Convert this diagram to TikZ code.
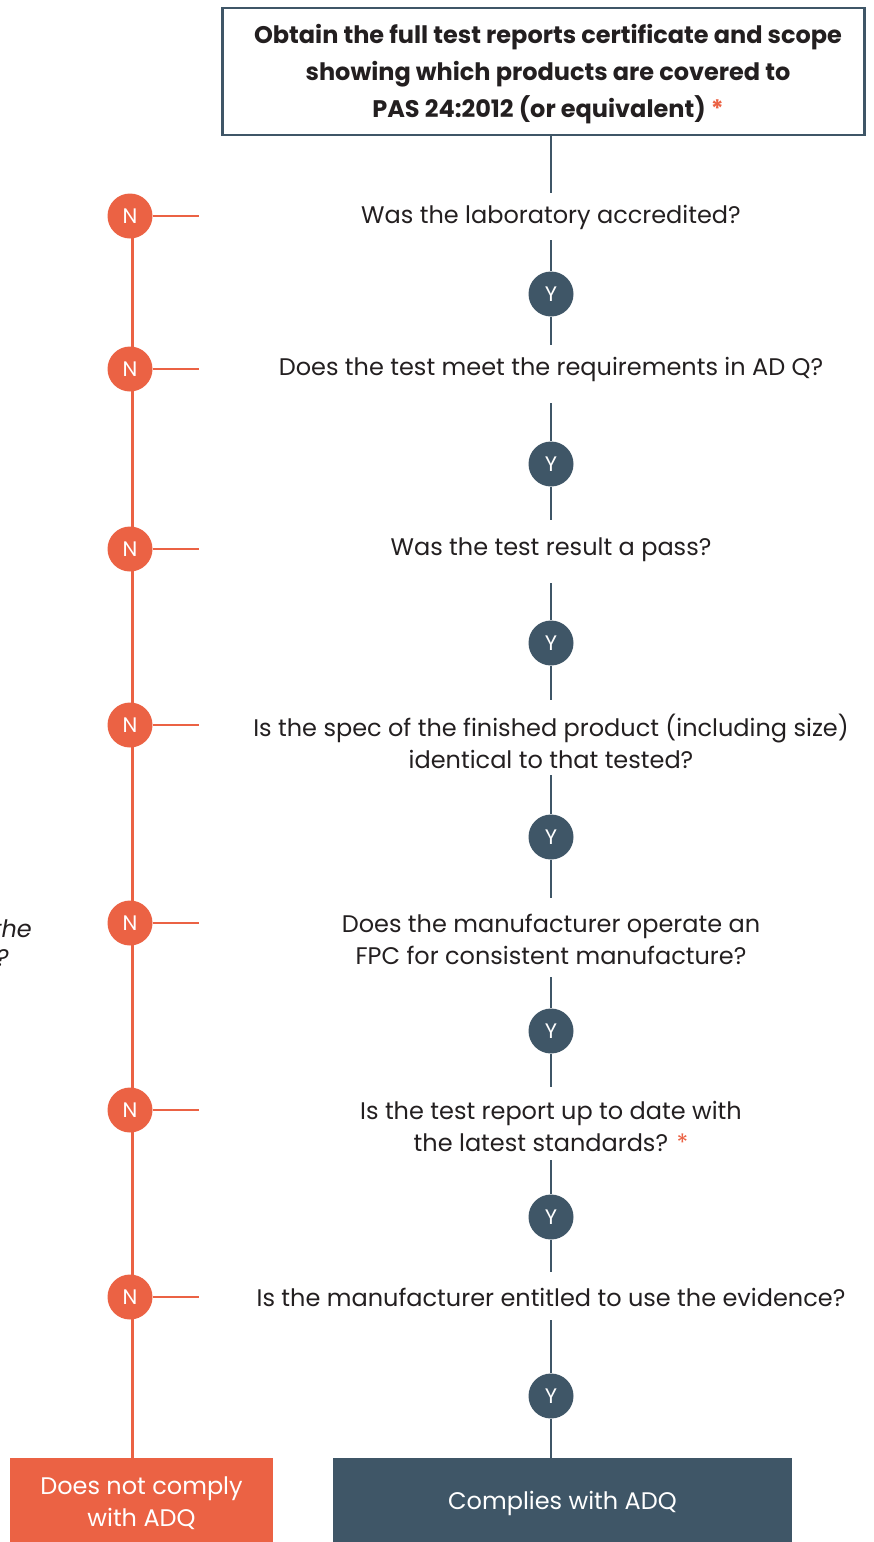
\documentclass[tikz,border=0pt]{standalone}
\usepackage{fontspec}
\setmainfont{Poppins}
\definecolor{orng}{HTML}{EB6244}
\definecolor{slate}{HTML}{3F5667}
\definecolor{ink}{HTML}{231F20}
\begin{document}
\begin{tikzpicture}[x=1pt,y=-1pt,
  qtext/.style={text=ink,font=\fontsize{24}{32}\selectfont,align=center,inner sep=0pt},
  ycirc/.style={circle,fill=slate,minimum size=45pt,inner sep=0pt,text=white,font=\fontsize{21}{21}\selectfont},
  ncirc/.style={circle,fill=orng,minimum size=45pt,inner sep=0pt,text=white,font=\fontsize{21}{21}\selectfont},
  yline/.style={draw=slate,line width=2.6pt},
  nline/.style={draw=orng,line width=2.8pt}]
\useasboundingbox (0,0) rectangle (873,1542);
% top box
\node[draw=slate,line width=2.5pt,minimum width=642pt,minimum height=127pt,inner sep=0pt] (top) at (543.5,71.5) {};
\node[text=ink,align=center,inner sep=0pt,font=\bfseries\fontsize{24}{37}\selectfont] (toptext) at (top.center)
  [yshift=-3pt,xshift=4.5pt] {Obtain the full test reports certificate and scope\\showing which products are covered to\\PAS 24:2012 (or equivalent) {\color{orng}*}};
% questions
\node[qtext] (q1) at (551,217) {Was the laboratory accredited?};
\node[qtext] (q2) at (551,369) {Does the test meet the requirements in AD Q?};
\node[qtext] (q3) at (551,550) {Was the test result a pass?};
\node[qtext] (q4) at (551,741) {Is the spec of the finished product (including size)\\identical to that tested?};
\node[qtext] (q5) at (551,939) {Does the manufacturer operate an\\FPC for consistent manufacture?};
\node[qtext] (q6) at (551,1126) {Is the test report up to date with\\the latest standards? {\color{orng}*}};
\node[qtext] (q7) at (551,1297) {Is the manufacturer entitled to use the evidence?};
% Y circles
\node[ycirc] (y1) at (551,294) {Y};
\node[ycirc] (y2) at (551,464) {Y};
\node[ycirc] (y3) at (551,643) {Y};
\node[ycirc] (y4) at (551,837) {Y};
\node[ycirc] (y5) at (551,1031) {Y};
\node[ycirc] (y6) at (551,1217) {Y};
\node[ycirc] (y7) at (551,1396) {Y};
% end boxes
\node[fill=orng,minimum width=263pt,minimum height=90pt,inner sep=0pt,text=white,align=center,
      font=\fontsize{24}{32}\selectfont] (no) at (141.5,1503) {Does not comply\\with ADQ};
\node[fill=slate,minimum width=459pt,minimum height=90pt,inner sep=0pt,text=white,
      font=\fontsize{24}{32}\selectfont] (yes) at (562.5,1503) {Complies with ADQ};
% gap coordinates
\coordinate (q1a) at (551,193); \coordinate (q1b) at (551,240);
\coordinate (q2a) at (551,345); \coordinate (q2b) at (551,403);
\coordinate (q3a) at (551,520); \coordinate (q3b) at (551,583);
\coordinate (q4a) at (551,700); \coordinate (q4b) at (551,775);
\coordinate (q5a) at (551,898); \coordinate (q5b) at (551,977);
\coordinate (q6a) at (551,1087); \coordinate (q6b) at (551,1160);
\coordinate (q7a) at (551,1272); \coordinate (q7b) at (551,1320);
% yes chain
\draw[yline] (q1a |- top.south) -- (q1a);
\draw[yline] (q1b) -- (y1.north);
\draw[yline] (y1.south) -- (q2a);
\draw[yline] (q2b) -- (y2.north);
\draw[yline] (y2.south) -- (q3a);
\draw[yline] (q3b) -- (y3.north);
\draw[yline] (y3.south) -- (q4a);
\draw[yline] (q4b) -- (y4.north);
\draw[yline] (y4.south) -- (q5a);
\draw[yline] (q5b) -- (y5.north);
\draw[yline] (y5.south) -- (q6a);
\draw[yline] (q6b) -- (y6.north);
\draw[yline] (y6.south) -- (q7a);
\draw[yline] (q7b) -- (y7.north);
\draw[yline] (y7.south) -- (y7.south |- yes.north);
% no chain
\coordinate (nv1) at (132.5,216);
\draw[nline] (nv1) -- (nv1 |- no.north);
\coordinate (stubx) at (199,0);
\foreach \i/\yy in {1/216,2/369,3/549,4/725,5/923,6/1110,7/1297}{
  \node[ncirc] (n\i) at (130,\yy) {N};
  \draw[nline] (n\i.east) -- (n\i.east -| stubx);
}
% partial side text (cut off at the left edge, as in the reference)
\node[anchor=east,text=ink,inner sep=0pt,font=\itshape\fontsize{24}{24}\selectfont] (side1) at (32,929) {the};
\node[anchor=east,text=ink,inner sep=0pt,font=\itshape\fontsize{24}{24}\selectfont] (side2) at (9,958) {?};
\end{tikzpicture}
\end{document}
